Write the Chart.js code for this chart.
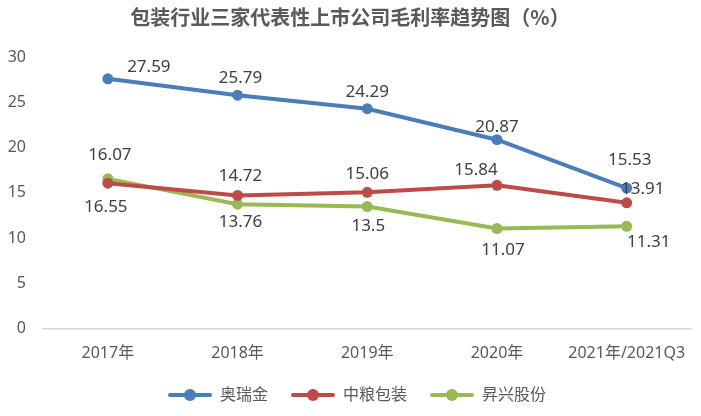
<!DOCTYPE html>
<html>
<head>
<meta charset="utf-8">
<script src="https://cdn.jsdelivr.net/npm/chart.js@4"></script>
<style>
  html, body { margin: 0; padding: 0; background: #fff; }
  #wrap { width: 701px; height: 416px; }
</style>
</head>
<body>
<div id="wrap"><canvas id="chart"></canvas></div>
<script>
const categories = ['2017年', '2018年', '2019年', '2020年', '2021年/2021Q3'];
const aoruijin = [27.59, 25.79, 24.29, 20.87, 15.53];
const zhongliang = [16.07, 14.72, 15.06, 15.84, 13.91];
const shengxing = [16.55, 13.76, 13.5, 11.07, 11.31];
const yTicks = [0, 5, 10, 15, 20, 25, 30];

const FONT = '"Noto Sans", "Noto Sans CJK SC", sans-serif';
const TEXT = '#595959';

// label offsets (px) from each point, per series
const labelOffsets = [
    [[41, -12], [3, -17], [0, -17], [0, -13], [3, -28]],
    [[2, -28], [3, -19], [0, -18], [-21, -15], [16, -14]],
    [[-2, 28], [3, 18], [1, 20], [6, 22], [22, 16]]
];

// legend swatch: line with a dot, transparent space on the left acts as item gap
const ICON_W = 58, ICON_GAP = 14;
function legendIcon(color) {
    const c = document.createElement('canvas');
    c.width = ICON_W; c.height = 14;
    const g = c.getContext('2d');
    g.strokeStyle = color;
    g.lineWidth = 4;
    g.lineCap = 'round';
    g.beginPath();
    g.moveTo(ICON_GAP + 2, 7); g.lineTo(ICON_W - 2, 7);
    g.stroke();
    g.fillStyle = color;
    g.beginPath();
    g.arc((ICON_GAP + ICON_W) / 2, 7, 6, 0, Math.PI * 2);
    g.fill();
    return c;
}

const valueLabels = {
    id: 'valueLabels',
    afterDatasetsDraw(chart) {
        const ctx = chart.ctx;
        ctx.save();
        ctx.font = '17px ' + FONT;
        ctx.fillStyle = '#404040';
        ctx.textAlign = 'center';
        ctx.textBaseline = 'middle';
        chart.data.datasets.forEach((ds, i) => {
            chart.getDatasetMeta(i).data.forEach((pt, j) => {
                const off = labelOffsets[i][j];
                ctx.fillText(String(ds.data[j]), pt.x + off[0], pt.y + off[1]);
            });
        });
        ctx.restore();
    }
};

const colors = ['#4a7ebb', '#be4b48', '#98b954'];

function series(label, data, color) {
    return {
        label: label,
        data: data,
        borderColor: color,
        backgroundColor: color,
        borderWidth: 4,
        pointRadius: 5.5,
        pointHoverRadius: 5.5,
        pointBorderWidth: 0,
        pointStyle: 'circle',
        tension: 0,
        fill: false
    };
}

const icons = colors.map(legendIcon);

new Chart(document.getElementById('chart'), {
    type: 'line',
    data: {
        labels: categories,
        datasets: [
            series('奥瑞金', aoruijin, colors[0]),
            series('中粮包装', zhongliang, colors[1]),
            series('昇兴股份', shengxing, colors[2])
        ]
    },
    options: {
        responsive: true,
        maintainAspectRatio: false,
        animation: false,
        layout: { padding: { left: 8, right: 9, top: 4, bottom: 3 } },
        scales: {
            x: {
                offset: true,
                grid: { display: false, drawTicks: false },
                border: { color: '#d9d9d9', width: 1.5 },
                ticks: { color: TEXT, font: { family: FONT, size: 16 }, padding: 15, maxRotation: 0 }
            },
            y: {
                min: 0,
                max: 30,
                afterBuildTicks: axis => { axis.ticks = yTicks.map(v => ({ value: v })); },
                afterFit: axis => { axis.width = 35; },
                grid: { display: false, drawTicks: false },
                border: { display: false },
                ticks: { color: TEXT, font: { family: FONT, size: 16 }, padding: 17 }
            }
        },
        plugins: {
            title: {
                display: true,
                text: '包装行业三家代表性上市公司毛利率趋势图（%）',
                color: TEXT,
                font: { family: '"Noto Sans CJK SC", sans-serif', size: 20, weight: 'bold' },
                padding: { top: 1, bottom: 28 }
            },
            legend: {
                position: 'bottom',
                labels: {
                    usePointStyle: true,
                    pointStyleWidth: ICON_W,
                    color: TEXT,
                    font: { family: FONT, size: 16 },
                    padding: 9,
                    generateLabels: chart => chart.data.datasets.map((ds, i) => ({
                        text: ds.label,
                        pointStyle: icons[i],
                        fontColor: TEXT,
                        datasetIndex: i,
                        hidden: false,
                        lineWidth: 0
                    }))
                }
            },
            tooltip: { enabled: false }
        }
    },
    plugins: [valueLabels]
});
</script>
</body>
</html>
